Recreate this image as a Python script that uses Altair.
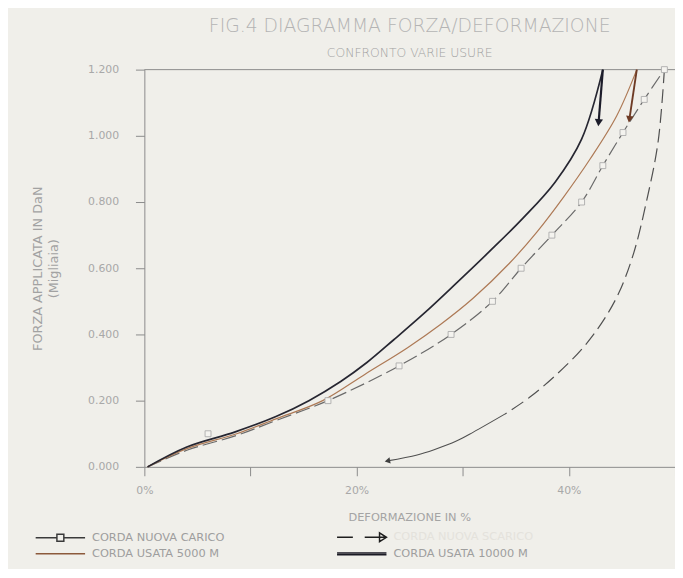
import altair as alt
import pandas as pd

# ---------------- data ----------------
SERIES = ["CORDA NUOVA CARICO", "CORDA NUOVA SCARICO", "CORDA USATA 5000 M", "CORDA USATA 10000 M"]

# new rope, loading (dashed curve)
carico_x = [0.3, 4.0, 8.7, 12.4, 17.3, 24.0, 28.9, 32.8, 35.5, 38.4, 41.2, 43.2, 45.1, 47.1, 49.0]
carico_y = [0.0, 0.05, 0.095, 0.14, 0.20, 0.305, 0.40, 0.50, 0.60, 0.70, 0.80, 0.91, 1.01, 1.11, 1.20]
# measured points (square markers)
punti_x = [6.0, 17.3, 24.0, 28.9, 32.8, 35.5, 38.4, 41.2, 43.2, 45.1, 47.1, 49.0]
punti_y = [0.10, 0.20, 0.305, 0.40, 0.50, 0.60, 0.70, 0.80, 0.91, 1.01, 1.11, 1.20]

# new rope, unloading (dashed part, then solid tail ending with arrow)
scarico_x = [49.0, 48.4, 47.3, 46.1, 44.7, 43.1, 41.2, 38.7, 36.3, 34.0]
scarico_y = [1.20, 0.98, 0.80, 0.645, 0.525, 0.435, 0.355, 0.275, 0.21, 0.16]
coda_x = [34.0, 31.0, 29.4, 27.3, 25.7, 22.9]
coda_y = [0.16, 0.105, 0.078, 0.052, 0.036, 0.018]

# used rope 5000 m
u5000_x = [0.3, 4.0, 8.7, 12.4, 16.8, 20.8, 24.8, 27.9, 31.0, 34.4, 37.0, 39.5, 42.0, 44.5, 46.4]
u5000_y = [0.0, 0.055, 0.10, 0.145, 0.20, 0.28, 0.36, 0.43, 0.51, 0.615, 0.71, 0.815, 0.93, 1.06, 1.20]

# used rope 10000 m
u10000_x = [0.3, 4.0, 8.5, 12.4, 15.5, 18.5, 21.0, 23.5, 26.4, 29.4, 32.5, 35.7, 38.7, 41.2, 43.2]
u10000_y = [0.0, 0.06, 0.105, 0.152, 0.20, 0.258, 0.316, 0.384, 0.465, 0.555, 0.65, 0.752, 0.86, 0.99, 1.20]

# arrows dropping from the top of the used-rope curves
freccia10000_x = [43.2, 42.8]
freccia10000_y = [1.20, 1.04]
freccia5000_x = [46.4, 45.7]
freccia5000_y = [1.20, 1.05]

y_ticks = [0.0, 0.1, 0.2, 0.3, 0.4, 0.5, 0.6, 0.7, 0.8, 0.9, 1.0, 1.1, 1.2]
x_ticks = [0, 10, 20, 30, 40, 50]


def frame(xs, ys):
    return pd.DataFrame({"x": xs, "y": ys, "i": list(range(len(xs)))})


FONT = "DejaVu Sans"
W, H = 537, 402

x_enc = alt.X(
    "x:Q",
    scale=alt.Scale(domain=[0, 50], nice=False, zero=False),
    axis=alt.Axis(
        values=x_ticks,
        labelExpr="datum.value % 20 == 0 && datum.value < 50 ? datum.value + '%' : ''",
        grid=False,
        tickSize=9,
        labelPadding=9,
        labelFont=FONT,
        labelFontSize=11,
        labelColor="#a8a8a8",
        labelFlush=False,
        domainColor="#8a8a8a",
        tickColor="#8a8a8a",
        title="DEFORMAZIONE IN %",
        titleFont=FONT,
        titleFontSize=11.5,
        titleFontWeight="normal",
        titleColor="#a4a4a4",
        titleX=268,
        titleY=51,
        titleAlign="center",
        titleBaseline="middle",
    ),
)
y_enc = alt.Y(
    "y:Q",
    scale=alt.Scale(domain=[0, 1.2], nice=False, zero=False),
    axis=alt.Axis(
        values=y_ticks,
        format=".3f",
        grid=False,
        tickSize=9,
        labelPadding=17,
        labelFont=FONT,
        labelFontSize=11,
        labelColor="#a8a8a8",
        domainColor="#8a8a8a",
        tickColor="#8a8a8a",
        title=["FORZA APPLICATA IN DaN", "(Migliaia)"],
        titleFont=FONT,
        titleFontSize=13,
        titleFontWeight="normal",
        titleColor="#a2a2a2",
        titleAngle=270,
        titleX=-108,
        titleY=201,
        titleAlign="center",
        titleBaseline="middle",
        titleLineHeight=16,
    ),
)
order = alt.Order("i:Q")

top_rule = alt.Chart(frame([0], [1.2])).mark_rule(color="#8a8a8a", strokeWidth=1).encode(
    y=alt.datum(1.2)
)

carico = alt.Chart(frame(carico_x, carico_y)).mark_line(
    color="#6a6a6a", strokeWidth=1.2, strokeDash=[15, 5], interpolate="catmull-rom"
).encode(x=x_enc, y=y_enc, order=order)

scarico = alt.Chart(frame(scarico_x, scarico_y)).mark_line(
    color="#505050", strokeWidth=1.2, strokeDash=[14, 6], interpolate="catmull-rom"
).encode(x=x_enc, y=y_enc, order=order)

coda = alt.Chart(frame(coda_x, coda_y)).mark_line(
    color="#505050", strokeWidth=1.1, interpolate="catmull-rom"
).encode(x=x_enc, y=y_enc, order=order)

u5000 = alt.Chart(frame(u5000_x, u5000_y)).mark_line(
    color="#ad7955", strokeWidth=1.2, interpolate="catmull-rom"
).encode(x=x_enc, y=y_enc, order=order)

u10000 = alt.Chart(frame(u10000_x, u10000_y)).mark_line(
    color="#262631", strokeWidth=1.7, interpolate="catmull-rom"
).encode(x=x_enc, y=y_enc, order=order)

f10000 = alt.Chart(frame(freccia10000_x, freccia10000_y)).mark_line(
    color="#1c1c2a", strokeWidth=2.2
).encode(x=x_enc, y=y_enc, order=order)

f5000 = alt.Chart(frame(freccia5000_x, freccia5000_y)).mark_line(
    color="#6e3b25", strokeWidth=1.9
).encode(x=x_enc, y=y_enc, order=order)

heads = pd.DataFrame({
    "x": [freccia10000_x[-1], freccia5000_x[-1], coda_x[-1]],
    "y": [freccia10000_y[-1], freccia5000_y[-1], coda_y[-1]],
    "shape": ["triangle-down", "triangle-down", "triangle-left"],
    "col": ["#1c1c2a", "#6e3b25", "#404040"],
    "angle": [5, 9, 349],
    "size": [70, 60, 40],
})
teste = alt.Chart(heads).mark_point(filled=True, opacity=1).encode(
    x=x_enc,
    y=y_enc,
    shape=alt.Shape("shape:N", scale=None),
    color=alt.Color("col:N", scale=None),
    angle=alt.Angle("angle:Q", scale=None),
    size=alt.Size("size:Q", scale=None),
)

punti = alt.Chart(frame(punti_x, punti_y)).mark_point(
    shape="square", size=36, filled=True, fill="#f4f3ef", stroke="#ababab", strokeWidth=0.9, opacity=1
).encode(x=x_enc, y=y_enc)

# legend-only layer (no rows): symbols drawn by the legend
legend_kw = dict(
    title=None,
    orient="none",
    direction="horizontal",
    legendX=-111,
    legendY=467,
    columns=2,
    columnPadding=110,
    rowPadding=3,
    padding=0,
    symbolSize=100,
    symbolStrokeWidth=1.5,
    labelFont=FONT,
    labelFontSize=11.5,
    labelOffset=46,
    labelLimit=300,
    labelColor=alt.ExprRef("datum.label == 'CORDA NUOVA SCARICO' ? '#e4e2dc' : '#9e9e9e'"),
)
# symbol paths are scaled by 5 px per unit; they span -1 .. 9 (about 50 px)
shape_paths = [
    "M-1,0H3.3M4.7,0H9M3.3,-0.7H4.7V0.7H3.3Z",
    "M-1,0H2.2M4.6,0H9M7.6,-0.9L9,0L7.6,0.9Z",
    "M-1,0H9",
    "M-1,-0.18H9M-1,0.18H9",
]
leg_df = pd.DataFrame({"x": pd.Series([], dtype=float), "y": pd.Series([], dtype=float),
                       "serie": pd.Series([], dtype=str)})
legenda = alt.Chart(leg_df).mark_point(filled=False, strokeWidth=1.5).encode(
    x=x_enc,
    y=y_enc,
    color=alt.Color("serie:N", scale=alt.Scale(domain=SERIES, range=["#3a3a3a", "#1e1e1e", "#8c5a3c", "#1a1a24"]),
                    legend=alt.Legend(**legend_kw)),
    shape=alt.Shape("serie:N", scale=alt.Scale(domain=SERIES, range=shape_paths),
                    legend=alt.Legend(**legend_kw)),
)

chart = alt.layer(
    top_rule, carico, scarico, coda, u5000, u10000, f10000, f5000, teste, punti, legenda
).properties(
    width=W,
    height=H,
    autosize=alt.AutoSizeParams(type="none"),
    padding={"left": 138, "top": 59, "right": 0, "bottom": 100},
    background="#f0efea",
    title=alt.TitleParams(
        text="FIG.4 DIAGRAMMA FORZA/DEFORMAZIONE",
        subtitle="CONFRONTO VARIE USURE",
        anchor="middle",
        frame="group",
        font=FONT,
        fontSize=19,
        fontWeight=200,
        color="#b4b4b4",
        subtitleFont=FONT,
        subtitleFontSize=12.5,
        subtitleFontWeight=200,
        subtitleColor="#a2a2a2",
        subtitlePadding=12,
        offset=4,
    ),
).configure_view(stroke=None)

chart.save("out.html", embed_options={"renderer": "svg", "actions": False})
